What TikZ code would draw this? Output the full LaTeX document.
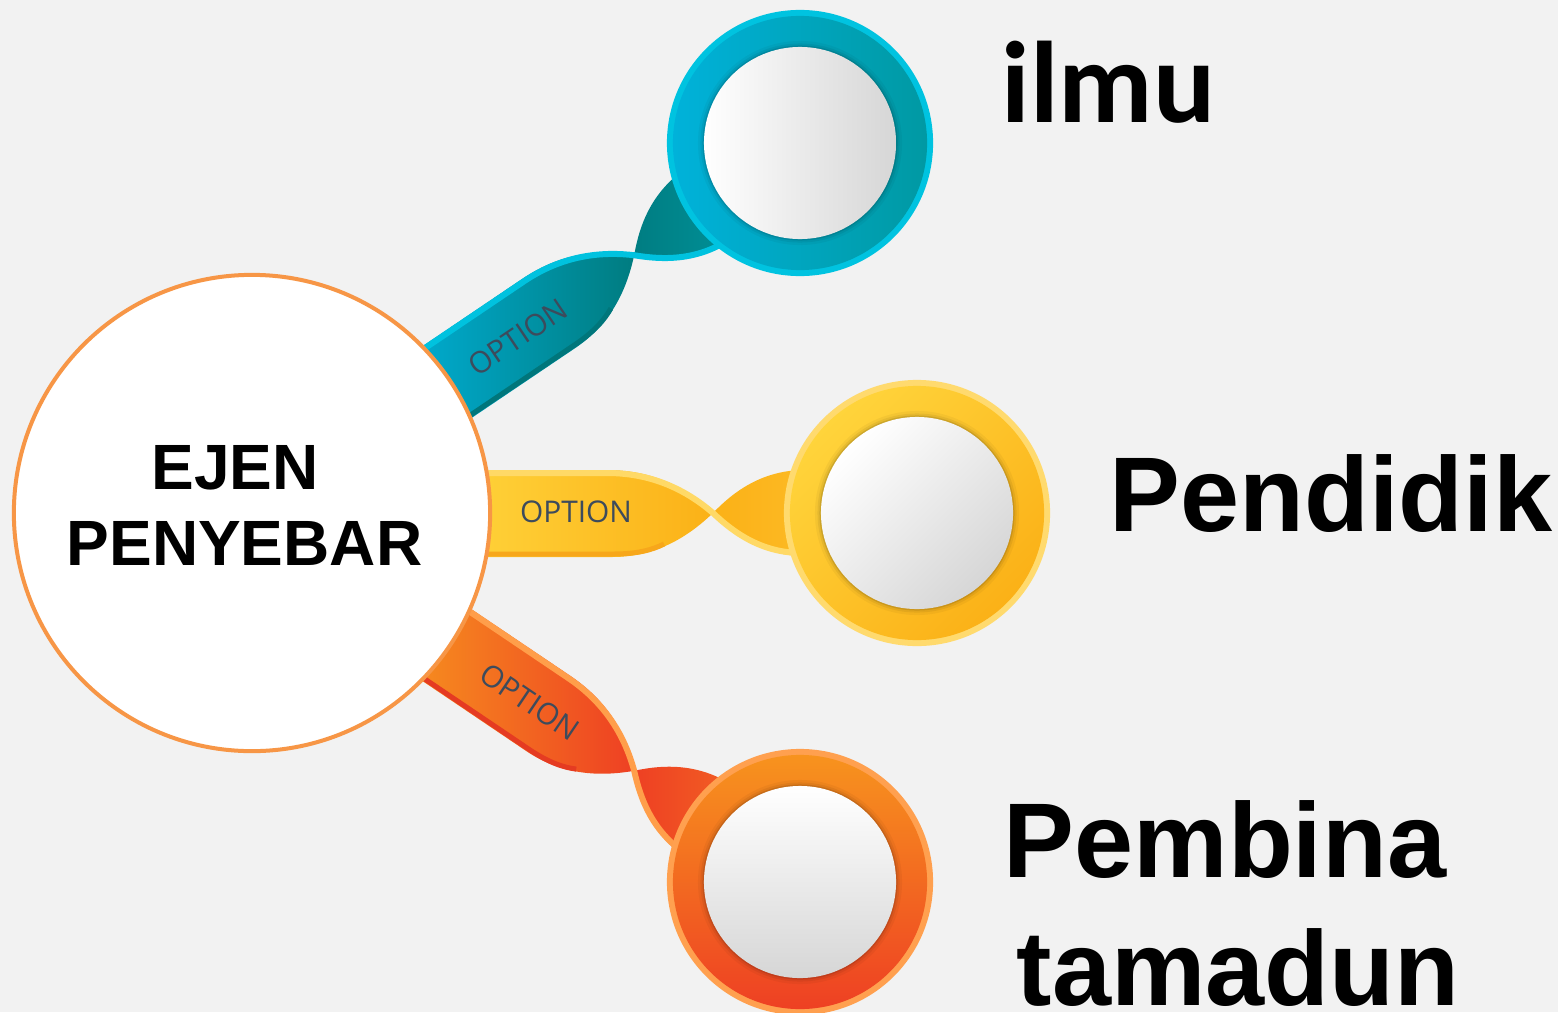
\documentclass[tikz,border=0pt]{standalone}
\usepackage{fontspec}
\setmainfont{Liberation Sans}
\newfontfamily\calfont{Carlito}
\newfontfamily\optfont{Open Sans}
\definecolor{bgc}{HTML}{F2F2F2}
\definecolor{mainborder}{HTML}{F79646}
\definecolor{optc}{HTML}{3D4B5C}
% teal ribbon
\definecolor{tealA}{HTML}{00AFD6}
\definecolor{tealB}{HTML}{007C80}
\definecolor{tealC}{HTML}{007D82}
\definecolor{tealE}{HTML}{0098A0}
\definecolor{tealD}{HTML}{00767B}
\definecolor{tealL}{HTML}{00C2DF}
% yellow ribbon
\definecolor{yelA}{HTML}{FFD43B}
\definecolor{yelB}{HTML}{FBB117}
\definecolor{yelC}{HTML}{FBB117}
\definecolor{yelE}{HTML}{FDBE2A}
\definecolor{yelD}{HTML}{F7A71B}
\definecolor{yelL}{HTML}{FFD966}
% orange ribbon
\definecolor{orgA}{HTML}{F7931E}
\definecolor{orgB}{HTML}{EE4023}
\definecolor{orgC}{HTML}{EE4023}
\definecolor{orgE}{HTML}{F36B24}
\definecolor{orgD}{HTML}{E53B22}
\definecolor{orgL}{HTML}{FF9E4A}
% rings
\definecolor{ringTB}{HTML}{00C3E0}
\definecolor{ringT1}{HTML}{00B2DA}
\definecolor{ringT2}{HTML}{0099A3}
\definecolor{ringMB}{HTML}{FFDA6E}
\definecolor{ringM1}{HTML}{FFD43B}
\definecolor{ringM2}{HTML}{FBB117}
\definecolor{ringBB}{HTML}{FFA04F}
\definecolor{ringB1}{HTML}{F7931E}
\definecolor{ringB2}{HTML}{EE4023}
\definecolor{innerg}{HTML}{D6D6D6}

\tikzset{
  bigtext/.style={font=\bfseries\fontsize{30.2pt}{36pt}\selectfont, inner sep=0pt, anchor=base west, text=black},
  centertext/.style={font=\bfseries\fontsize{18.2pt}{22pt}\selectfont, inner sep=0pt, anchor=base west, text=black},
  opttext/.style={font=\optfont\fontsize{8.5pt}{10pt}\selectfont, inner sep=0pt, text=optc},
  maincircle/.style={circle, draw=mainborder, line width=0.04cm, fill=white, minimum size=4.76cm, inner sep=0pt}
}

\newcommand{\drawribbon}[2]{%
  \begin{scope}[shift={(252,513)}, rotate=#1]
    \shade[left color=#2A, right color=#2B]
      (200,-43) -- (355,-43) .. controls (408,-43) and (440,-20) .. (461,0)
      .. controls (440,20) and (408,44) .. (360,44) -- (200,44) -- cycle;
    \draw[#2D, line width=0.05cm] (200,41) -- (362,41) .. controls (385,41) and (400,37) .. (412,31);
    \shade[left color=#2C, right color=#2E]
      (461,0) .. controls (482,-22) and (510,-42) .. (550,-43) -- (600,-43)
      -- (600,43) -- (550,43) .. controls (510,42) and (482,22) .. (461,0) -- cycle;
    \draw[#2L, line width=0.06cm]
      (200,-40) -- (355,-40) .. controls (406,-40) and (440,-18) .. (461,0)
      .. controls (482,20) and (510,40) .. (550,40) -- (600,40);
  \end{scope}}

\newcommand{\drawring}[6]{%
  \fill[#2] (#1) circle[radius=1.33cm];
  \shade[top color=#3, bottom color=#4, shading angle=#5] (#1) circle[radius=1.27cm];
  \fill[black, opacity=0.04] (#1) circle[radius=1.02cm];
  \fill[black, opacity=0.06] (#1) circle[radius=0.995cm];
  \fill[black, opacity=0.10] (#1) circle[radius=0.975cm];
  \shade[top color=white, bottom color=innerg, shading angle=#6] (#1) circle[radius=0.96cm];}

\begin{document}
\begin{tikzpicture}[x=0.01cm, y=-0.01cm]
  \fill[bgc] (0,0) rectangle (1558,1012);
  \useasboundingbox (0,0) rectangle (1558,1012);

  \drawribbon{34}{teal}
  \drawribbon{0}{yel}
  \drawribbon{-34}{org}

  \node[maincircle] (main) at (252,513) {};

  \coordinate (c1) at (800,143);
  \coordinate (c2) at (917,513);
  \coordinate (c3) at (800,882);
  \drawring{c1}{ringTB}{ringT1}{ringT2}{90}{90}
  \drawring{c2}{ringMB}{ringM1}{ringM2}{45}{45}
  \drawring{c3}{ringBB}{ringB1}{ringB2}{0}{0}

  \node[opttext, rotate=34] (o1) at (518,337) {OPTION};
  \node[opttext] (o2) at (576,512) {OPTION};
  \node[opttext, rotate=-34] (o3) at (530,702) {OPTION};

  \node[centertext] (ejen) at (151,489) {EJEN};
  \node[centertext] (peny) at (66,565) {PENYEBAR};

  \node[inner sep=0pt, anchor=base west, font=\calfont\bfseries\fontsize{33pt}{40pt}\selectfont] (ilmu) at (1001,122) {ilmu};
  \node[bigtext] (pend) at (1109,531) {Pendidik};
  \node[bigtext] (pemb) at (1003,877) {Pembina};
  \node[bigtext] (tama) at (1016,1005) {tamadun};
\end{tikzpicture}
\end{document}
